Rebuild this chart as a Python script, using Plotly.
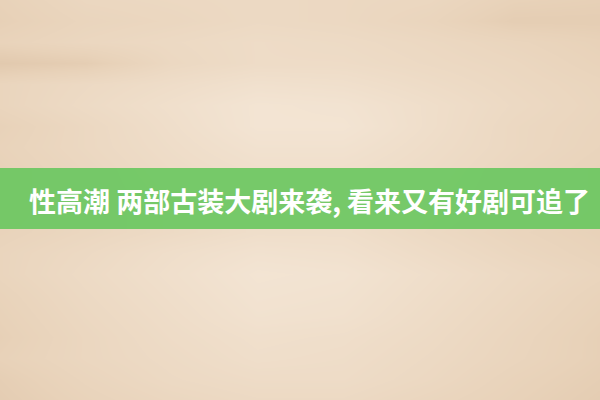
import plotly.graph_objects as go

# wood background, estimated lightness per row (top to bottom) x column (left to right)
wood_rows = [
    [0.50, 0.58, 0.60, 0.62, 0.60, 0.58, 0.50, 0.48],
    [0.48, 0.55, 0.58, 0.62, 0.60, 0.55, 0.45, 0.45],
    [0.52, 0.58, 0.62, 0.66, 0.64, 0.60, 0.55, 0.50],
    [0.40, 0.45, 0.60, 0.66, 0.66, 0.62, 0.58, 0.52],
    [0.55, 0.62, 0.68, 0.74, 0.72, 0.66, 0.60, 0.55],
    [0.55, 0.64, 0.72, 0.80, 0.78, 0.70, 0.62, 0.56],
    [0.50, 0.60, 0.70, 0.80, 0.80, 0.70, 0.60, 0.55],
    [0.52, 0.60, 0.68, 0.76, 0.76, 0.68, 0.60, 0.54],
    [0.50, 0.58, 0.66, 0.72, 0.72, 0.66, 0.58, 0.52],
    [0.50, 0.58, 0.64, 0.70, 0.70, 0.64, 0.58, 0.52],
    [0.50, 0.58, 0.64, 0.70, 0.70, 0.64, 0.58, 0.52],
    [0.52, 0.58, 0.64, 0.70, 0.70, 0.62, 0.55, 0.50],
    [0.55, 0.62, 0.70, 0.76, 0.74, 0.66, 0.58, 0.52],
    [0.55, 0.64, 0.72, 0.80, 0.78, 0.70, 0.62, 0.55],
    [0.52, 0.62, 0.70, 0.78, 0.76, 0.68, 0.60, 0.52],
    [0.50, 0.60, 0.68, 0.76, 0.74, 0.66, 0.58, 0.50],
    [0.48, 0.58, 0.66, 0.72, 0.70, 0.64, 0.56, 0.48],
    [0.50, 0.58, 0.64, 0.70, 0.68, 0.62, 0.55, 0.48],
    [0.46, 0.55, 0.62, 0.66, 0.66, 0.60, 0.52, 0.46],
    [0.44, 0.52, 0.58, 0.62, 0.62, 0.56, 0.50, 0.44],
]

title_text = "性高潮 两部古装大剧来袭, 看来又有好剧可追了"

n_rows = len(wood_rows)
n_cols = len(wood_rows[0])
xs = [600 * i / (n_cols - 1) for i in range(n_cols)]
ys = [400 * j / (n_rows - 1) for j in range(n_rows)]

fig = go.Figure()
fig.add_trace(go.Heatmap(
    z=wood_rows, x=xs, y=ys,
    colorscale=[[0, "rgb(200,165,130)"], [0.5, "rgb(232,210,185)"], [1, "rgb(250,240,228)"]],
    zmin=0, zmax=1,
    zsmooth="best",
    showscale=False,
    hoverinfo="skip",
))

# green banner
fig.add_shape(type="rect", x0=0, x1=600, y0=168, y1=229,
              fillcolor="rgb(104,198,94)", opacity=0.9, line_width=0, layer="above")

fig.add_annotation(x=309, y=200, text=title_text, showarrow=False,
                   font=dict(family="Noto Sans CJK SC", size=27, color="white", weight=700))

fig.update_xaxes(range=[0, 600], visible=False)
fig.update_yaxes(range=[400, 0], visible=False)
fig.update_layout(width=600, height=400, margin=dict(l=0, r=0, t=0, b=0),
                  paper_bgcolor="rgb(236,216,192)", plot_bgcolor="rgb(236,216,192)",
                  showlegend=False)

fig.write_html("out.html", config={"displayModeBar": False},
               post_script="document.body.style.margin='0px';")
